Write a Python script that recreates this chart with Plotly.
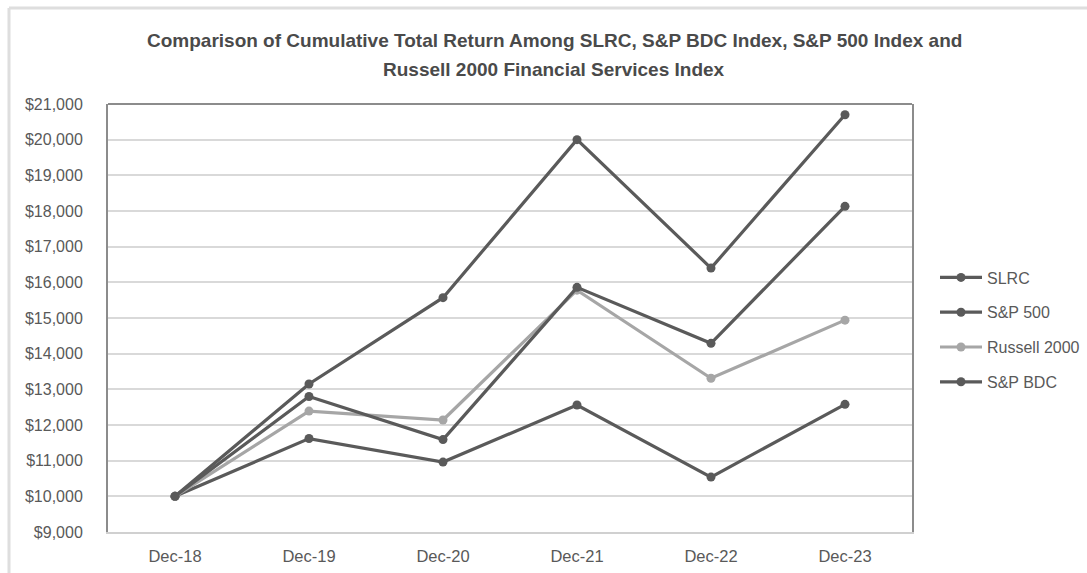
import plotly.graph_objects as go

categories = ["Dec-18", "Dec-19", "Dec-20", "Dec-21", "Dec-22", "Dec-23"]
slrc = [10000, 11620, 10960, 12560, 10540, 12580]
sp500 = [10000, 13150, 15570, 20000, 16400, 20700]
russell2000 = [10000, 12390, 12140, 15780, 13310, 14940]
sp_bdc = [10000, 12800, 11590, 15860, 14290, 18130]
y_ticks = list(range(9000, 21001, 1000))
y_tick_labels = ["${:,}".format(v) for v in y_ticks]
title_lines = [
    "Comparison of Cumulative Total Return Among SLRC, S&P BDC Index, S&P 500 Index and",
    "Russell 2000 Financial Services Index",
]

DARK = "#5a5a5a"
LIGHT = "#a6a6a6"
TXT = "#595959"
FONT = "Liberation Sans"

series = [
    ("SLRC", slrc, DARK),
    ("S&P 500", sp500, DARK),
    ("Russell 2000", russell2000, LIGHT),
    ("S&P BDC", sp_bdc, DARK),
]

fig = go.Figure()
for i, (name, vals, col) in enumerate(series):
    fig.add_trace(go.Scatter(
        x=categories, y=vals, name=name, mode="lines+markers",
        line=dict(color=col, width=3.2),
        marker=dict(color=col, size=9),
        legendgroup=f"g{i}",
    ))

W, H = 1087, 573
L, R, T, B = 108, 1087 - 912, 104, 573 - 532
PW, PH = 912 - L, 532 - 104


def px_x(px):
    return (px - L) / PW


def px_y(py):
    return (532 - py) / PH


fig.update_layout(
    width=W, height=H,
    margin=dict(l=L, r=R, t=T, b=B, autoexpand=False),
    paper_bgcolor="white", plot_bgcolor="white",
    font=dict(family=FONT, size=15, color=TXT),
    showlegend=True,
    legend=dict(
        x=px_x(935), xanchor="left",
        y=px_y(330), yanchor="middle",
        traceorder="grouped", tracegroupgap=11,
        font=dict(family=FONT, size=16, color=TXT),
        bgcolor="rgba(0,0,0,0)", itemwidth=42,
    ),
    xaxis=dict(
        type="category", categoryorder="array", categoryarray=categories,
        showgrid=False, showline=True, linecolor="#d0d0d0", linewidth=2,
        ticks="", tickfont=dict(family=FONT, size=16.5, color=TXT),
        ticklabelstandoff=8, zeroline=False, automargin=False,
        range=[-0.5, 5.5],
    ),
    yaxis=dict(
        range=[9000, 21000], tickvals=y_ticks, ticktext=y_tick_labels,
        showgrid=True, gridcolor="#d9d9d9", gridwidth=2,
        showline=True, mirror=True, linecolor="#8c8c8c", linewidth=2,
        ticks="", tickfont=dict(family=FONT, size=16, color=TXT),
        ticklabelstandoff=20, zeroline=False, automargin=False,
    ),
)

for line, ypx in zip(title_lines, [41, 70]):
    fig.add_annotation(
        text=f"<b>{line}</b>", xref="paper", yref="paper",
        x=px_x(554), y=px_y(ypx), xanchor="center", yanchor="middle",
        showarrow=False, font=dict(family=FONT, size=19, color="#4a4a4a"),
    )

# top border of the plot area
fig.add_shape(type="line", xref="paper", yref="paper", x0=0, x1=1, y0=1, y1=1,
              line=dict(color="#8c8c8c", width=2))
# outer chart frame (top and left edges visible)
fig.add_shape(type="line", xref="paper", yref="paper",
              x0=px_x(9), x1=px_x(W), y0=px_y(8), y1=px_y(8),
              line=dict(color="#dedede", width=3))
fig.add_shape(type="line", xref="paper", yref="paper",
              x0=px_x(9), x1=px_x(9), y0=px_y(8), y1=px_y(H),
              line=dict(color="#dedede", width=3))

fig.write_html("out.html")
